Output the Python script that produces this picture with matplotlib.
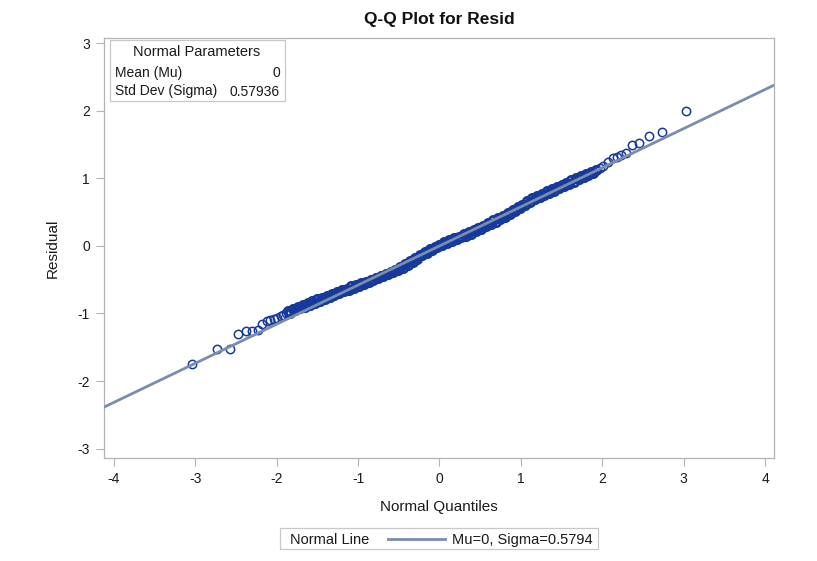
import matplotlib
matplotlib.use("Agg")
import matplotlib.pyplot as plt
from matplotlib.lines import Line2D
from matplotlib.patches import Rectangle

plt.rcParams['font.family'] = ['Liberation Sans', 'DejaVu Sans']
plt.rcParams['axes.unicode_minus'] = False

# parametry rozkladu normalnego
mu = 0.0
sigma = 0.57936

# kwantyle normalne (os X) i reszty (os Y) odczytane z wykresu
# ogon dolny
q_dol = [-3.04, -2.73, -2.57, -2.47, -2.37, -2.30, -2.23, -2.18, -2.12, -2.08,
         -2.03, -1.99, -1.95, -1.92, -1.89]
r_dol = [-1.75, -1.53, -1.53, -1.30, -1.26, -1.26, -1.24, -1.15, -1.11, -1.10,
         -1.08, -1.06, -1.04, -1.02, -0.99]

# gesta czesc srodkowa
q_srodek = [-1.86, -1.83, -1.80, -1.77, -1.74, -1.71, -1.68, -1.65, -1.62, -1.59,
            -1.56, -1.53, -1.50, -1.47, -1.44, -1.41, -1.38, -1.35, -1.32, -1.29,
            -1.26, -1.23, -1.20, -1.17, -1.14, -1.11, -1.08, -1.05, -1.02, -0.99,
            -0.96, -0.93, -0.90, -0.87, -0.84, -0.81, -0.78, -0.75, -0.72, -0.69,
            -0.66, -0.63, -0.60, -0.57, -0.54, -0.51, -0.48, -0.45, -0.42, -0.39,
            -0.36, -0.33, -0.30, -0.27, -0.24, -0.21, -0.18, -0.15, -0.12, -0.09,
            -0.06, -0.03, 0.00, 0.03, 0.06, 0.09, 0.12, 0.15, 0.18, 0.21,
            0.24, 0.27, 0.30, 0.33, 0.36, 0.39, 0.42, 0.45, 0.48, 0.51,
            0.54, 0.57, 0.60, 0.63, 0.66, 0.69, 0.72, 0.75, 0.78, 0.81,
            0.84, 0.87, 0.90, 0.93, 0.96, 0.99, 1.02, 1.05, 1.08, 1.11,
            1.14, 1.17, 1.20, 1.23, 1.26, 1.29, 1.32, 1.35, 1.38, 1.41,
            1.44, 1.47, 1.50, 1.53, 1.56, 1.59, 1.62, 1.65, 1.68, 1.71,
            1.74, 1.77, 1.80, 1.83, 1.86, 1.89, 1.92]
r_srodek = [-0.97, -0.99, -0.94, -0.95, -0.91, -0.92, -0.88, -0.90, -0.85, -0.87,
            -0.82, -0.84, -0.79, -0.81, -0.77, -0.78, -0.74, -0.75, -0.71, -0.72,
            -0.68, -0.70, -0.65, -0.67, -0.63, -0.65, -0.60, -0.62, -0.58, -0.59,
            -0.55, -0.57, -0.53, -0.54, -0.50, -0.51, -0.47, -0.48, -0.44, -0.45,
            -0.41, -0.42, -0.38, -0.39, -0.35, -0.36, -0.31, -0.32, -0.27, -0.28,
            -0.23, -0.24, -0.18, -0.19, -0.14, -0.14, -0.09, -0.10, -0.05, -0.06,
            -0.01, -0.02, 0.02, 0.01, 0.06, 0.04, 0.09, 0.07, 0.12, 0.10,
            0.14, 0.13, 0.17, 0.15, 0.20, 0.18, 0.23, 0.22, 0.26, 0.25,
            0.30, 0.29, 0.34, 0.33, 0.38, 0.36, 0.41, 0.40, 0.45, 0.43,
            0.49, 0.48, 0.53, 0.52, 0.57, 0.56, 0.61, 0.60, 0.66, 0.65,
            0.71, 0.69, 0.74, 0.73, 0.77, 0.76, 0.81, 0.79, 0.84, 0.82,
            0.87, 0.86, 0.90, 0.89, 0.93, 0.92, 0.97, 0.95, 1.00, 0.99,
            1.03, 1.02, 1.06, 1.05, 1.09, 1.08, 1.13]

# ogon gorny
q_gora = [1.97, 2.01, 2.07, 2.13, 2.18, 2.23, 2.29, 2.37, 2.45, 2.57, 2.73, 3.03]
r_gora = [1.15, 1.19, 1.25, 1.31, 1.32, 1.35, 1.37, 1.50, 1.53, 1.63, 1.69, 2.00]

x_ticks = [-4, -3, -2, -1, 0, 1, 2, 3, 4]
y_ticks = [-3, -2, -1, 0, 1, 2, 3]

kolor_pkt = '#163a9c'
kolor_linii = '#7a8daf'
kolor_ramki = '#b4b4b4'
kolor_tekstu = '#1a1a1a'

fig = plt.figure(figsize=(8.17, 5.61), dpi=100)
ax = fig.add_axes([0.1273, 0.1836, 0.8201, 0.7487])

xlim = (-4.12, 4.11)
ax.set_xlim(*xlim)
ax.set_ylim(-3.14, 3.08)

# linia rozkladu normalnego
ax.plot(list(xlim), [mu + sigma * xlim[0], mu + sigma * xlim[1]],
        color=kolor_linii, lw=2.0, zorder=3)

# punkty: srodek gruba obwodka (gesto nachodzace kolka), ogony cienka
ax.plot(q_srodek, r_srodek, linestyle='none', marker='o', markersize=6.0,
        markerfacecolor='none', markeredgecolor=kolor_pkt, markeredgewidth=2.0,
        zorder=2)
ax.plot(q_dol + q_gora, r_dol + r_gora, linestyle='none', marker='o',
        markersize=6.0, markerfacecolor='none', markeredgecolor=kolor_pkt,
        markeredgewidth=1.1, zorder=2)

ax.set_xticks(x_ticks)
ax.set_yticks(y_ticks)
ax.tick_params(direction='out', length=6, width=0.8, color=kolor_ramki,
               labelsize=10, labelcolor=kolor_tekstu, pad=4)
for s in ax.spines.values():
    s.set_color(kolor_ramki)
    s.set_linewidth(0.9)

ax.set_xlabel('Normal Quantiles', fontsize=11, color=kolor_tekstu, labelpad=10)
ax.set_ylabel('Residual', fontsize=11, color=kolor_tekstu, labelpad=13)
fig.text(0.538, 0.966, 'Q-Q Plot for Resid', ha='center', va='center',
         fontsize=12.5, fontweight='bold', color='#111111')

# ramka z parametrami
tr = fig.transFigure
fig.patches.append(Rectangle((110 / 817, 1 - 101 / 561), 175 / 817, 61 / 561,
                             transform=tr, facecolor='white',
                             edgecolor='#c8c8c8', lw=0.9, zorder=5))
fig.text(197 / 817, 1 - 52.5 / 561, 'Normal Parameters', ha='center', va='center',
         fontsize=10.5, color=kolor_tekstu, zorder=6)
fig.text(115 / 817, 1 - 73 / 561, 'Mean (Mu)', ha='left', va='center',
         fontsize=10, color=kolor_tekstu, zorder=6)
fig.text(280 / 817, 1 - 73 / 561, f'{mu:.0f}', ha='right', va='center',
         fontsize=10, color=kolor_tekstu, zorder=6)
fig.text(115 / 817, 1 - 91.5 / 561, 'Std Dev (Sigma)', ha='left', va='center',
         fontsize=10, color=kolor_tekstu, zorder=6)
fig.text(280 / 817, 1 - 91.5 / 561, f'{sigma:.5f}', ha='right', va='center',
         fontsize=10, color=kolor_tekstu, zorder=6)

# legenda na dole
fig.patches.append(Rectangle((280 / 817, 1 - 549 / 561), 318 / 817, 21 / 561,
                             transform=tr, facecolor='white',
                             edgecolor='#c8c8c8', lw=0.9))
fig.text(290 / 817, 1 - 538.5 / 561, 'Normal Line', ha='left',
         va='center_baseline', fontsize=10.5, color=kolor_tekstu)
fig.lines.append(Line2D([388 / 817, 445 / 817], [1 - 538.5 / 561, 1 - 538.5 / 561],
                        transform=tr, color=kolor_linii, lw=2.0))
fig.text(452 / 817, 1 - 538.5 / 561, f'Mu={mu:.0f}, Sigma={sigma:.4f}',
         ha='left', va='center_baseline', fontsize=10.5, color=kolor_tekstu)

fig.savefig('out.png', dpi=100)
